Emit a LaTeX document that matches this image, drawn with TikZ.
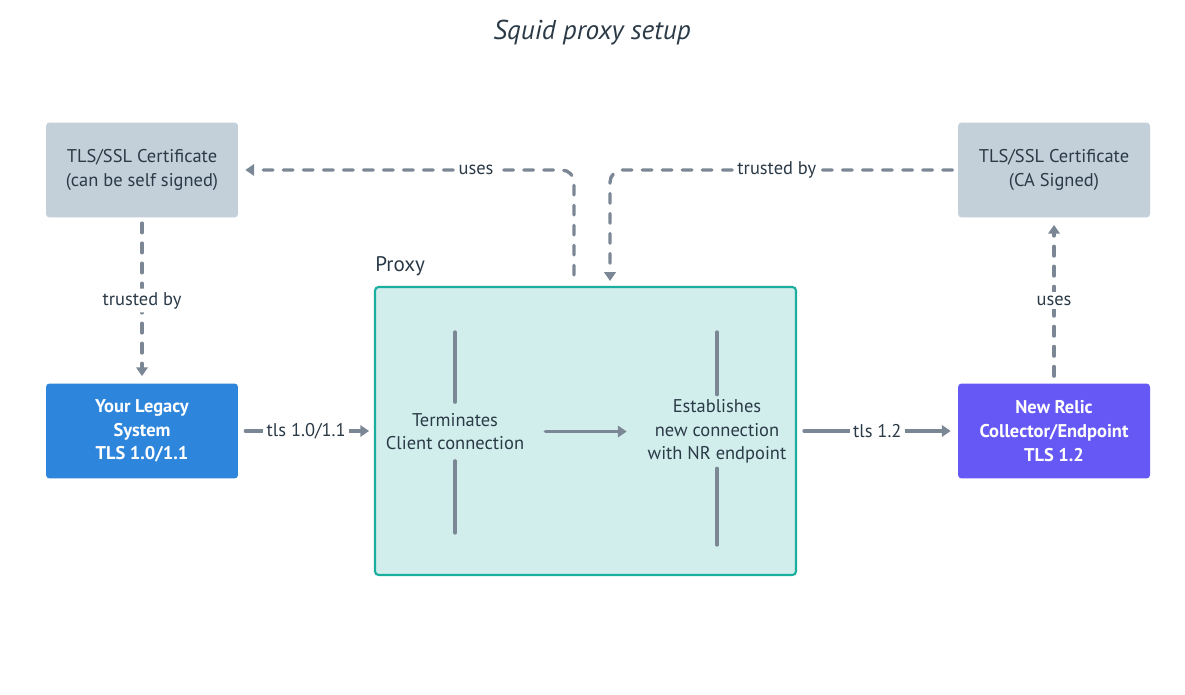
\documentclass[tikz,border=0pt]{standalone}
\usepackage{fontspec}
\setmainfont{PT Sans}
\usetikzlibrary{arrows.meta, calc, positioning}
\definecolor{certgray}{HTML}{C3CFD9}
\definecolor{legacyblue}{HTML}{2D86DC}
\definecolor{relicpurple}{HTML}{6558F5}
\definecolor{proxyfill}{HTML}{D1EEEC}
\definecolor{proxyline}{HTML}{1AAE9F}
\definecolor{linegray}{HTML}{7B8794}
\definecolor{inkdark}{HTML}{2B3A47}

\tikzset{
  box/.style={minimum width=3.84cm, minimum height=1.9cm, rounded corners=2pt, align=center, font=\fontsize{10.5}{13.5}\selectfont},
  certbox/.style={box, fill=certgray, text=inkdark},
  sysbox/.style={box, text=white, font=\fontsize{10.5}{13.5}\selectfont\bfseries},
  conn/.style={linegray, line width=1.9pt, dash pattern=on 5.5pt off 5.9pt, line cap=round, rounded corners=7pt, -{Triangle[length=5pt,width=6.5pt]}},
  flow/.style={linegray, line width=1.9pt, line cap=round, -{Triangle[length=5pt,width=6.5pt]}},
  bar/.style={linegray, line width=1.9pt, line cap=round},
  lbl/.style={fill=white, text=inkdark, inner sep=2pt, font=\fontsize{10.5}{13.5}\selectfont},
  step text/.style={text=inkdark, align=center, inner sep=0pt, minimum width=3.6cm, font=\fontsize{10.5}{13.5}\selectfont},
}

\begin{document}
\begin{tikzpicture}[x=0.02cm, y=-0.02cm]
		\useasboundingbox (0,0) rectangle (1185,695);
		\node(title) [text=inkdark, font=\fontsize{15.5}{18}\selectfont\itshape] at (592,33) {Squid proxy setup};
		
		%----------------------------------------------------------------
		\node(cert1) [certbox] at (142,170) {TLS/SSL Certificate \\ (can be self signed)};
		\node(cert2) [certbox] at (1054,170) {TLS/SSL Certificate \\ (CA Signed)};
		\node(legacy) [sysbox, fill=legacyblue] at (142,431) {Your Legacy \\ System \\ TLS 1.0/1.1};
		\node(relic) [sysbox, fill=relicpurple] at (1054,431) {New Relic \\ Collector/Endpoint \\ TLS 1.2};
		
		%----------------------------------------------------------------
		\node(proxy) [draw=proxyline, fill=proxyfill, line width=1.2pt, rounded corners=2pt, minimum width=8.42cm, minimum height=5.76cm] at (585.5,431) {};
		\node(proxylbl) [text=inkdark, anchor=base west, inner sep=0pt, font=\fontsize{12}{14}\selectfont] at ($(proxy.north west)+(1,-14)$) {Proxy};
		
		\node(term) [step text, minimum height=1.16cm] at (455,431.5) {Terminates \\ Client connection};
		\node(estab) [step text, minimum height=1.46cm] at (717,431.5) {Establishes \\ new connection \\ with NR endpoint};
		
		\coordinate (termtop) at (455,332);
		\coordinate (termfoot) at (455,533);
		\coordinate (estabtop) at (717,332);
		\coordinate (estabfoot) at (717,545);
		\coordinate (usesfoot) at (574,275);
		\coordinate (trustfoot) at (610,281);
		
		%----------------------------------------------------------------
		\draw [bar] (termtop) -- (term);
		\draw [bar] (termfoot) -- (term);
		\draw [bar] (estabtop) -- (estab);
		\draw [bar] (estabfoot) -- (estab);
		\draw [flow] (term) -- (estab);
		
		%----------------------------------------------------------------
		\draw [conn, shorten >=4pt] (usesfoot) |- (cert1) node[lbl, pos=0.646] {uses};
		\draw [conn, shorten <=3pt] (cert2) -| (trustfoot) node[lbl, pos=0.26] {trusted by};
		\draw [conn, shorten <=3pt, shorten >=4pt] (cert1) -- (legacy) node[lbl, midway] {trusted by};
		\draw [conn, shorten <=4pt, shorten >=4pt] (relic) -- (cert2) node[lbl, midway] {uses};
		
		\draw [flow, shorten <=4pt, shorten >=2.8pt] (legacy) -- (proxy) node[lbl, midway] {tls 1.0/1.1};
		\draw [flow, shorten <=4pt, shorten >=4pt] (proxy) -- (relic) node[lbl, midway] {tls 1.2};
		
	\end{tikzpicture}
\end{document}
